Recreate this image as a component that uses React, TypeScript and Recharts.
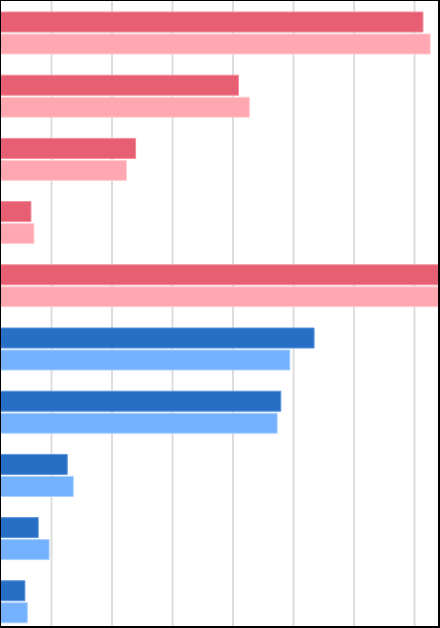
import React from 'react';
import { BarChart, Bar, XAxis, YAxis, CartesianGrid, Cell } from 'recharts';

const CATEGORIES = ['A1', 'A2', 'A3', 'A4', 'A5', 'B1', 'B2', 'B3', 'B4', 'B5'];
const GROUPS = ['red', 'red', 'red', 'red', 'red', 'blue', 'blue', 'blue', 'blue', 'blue'];
const SERIES_A = [71.4, 40.9, 23.9, 6.6, 78, 53.4, 47.9, 12.6, 7.8, 5.6];
const SERIES_B = [72.6, 42.7, 22.4, 7.1, 79, 49.4, 47.3, 13.6, 9.6, 6.0];
const X_TICKS = [0, 10, 20, 30, 40, 50, 60, 70, 80];

const PALETTE: Record<string, { dark: string; darkStroke: string; light: string; lightStroke: string }> = {
  red: { dark: '#e65f72', darkStroke: '#f28c9b', light: '#ffa8b1', lightStroke: '#ffcdd3' },
  blue: { dark: '#276fc5', darkStroke: '#5a95dd', light: '#74b2ff', lightStroke: '#a9d0ff' },
};

const data = CATEGORIES.map((name, i) => ({
  name,
  group: GROUPS[i],
  a: SERIES_A[i],
  b: SERIES_B[i],
}));

export default function App() {
  return (
    <div style={{ position: 'absolute', left: 0, top: 0, width: 440, height: 628, overflow: 'hidden', background: '#fff' }}>
      <div style={{ position: 'absolute', left: -9, top: 1 }}>
        <BarChart
          layout="vertical"
          width={484}
          height={632}
          data={data}
          margin={{ top: 0, right: 0, bottom: 0, left: 0 }}
          barSize={20}
          barGap={2}
        >
          <CartesianGrid horizontal={false} stroke="#dddddd" strokeWidth={2} />
          <XAxis type="number" domain={[0, 80]} ticks={X_TICKS} hide />
          <YAxis type="category" dataKey="name" hide />
          <Bar dataKey="a" isAnimationActive={false} strokeWidth={1}>
            {data.map((d, i) => (
              <Cell key={`a-${i}`} fill={PALETTE[d.group].dark} stroke={PALETTE[d.group].darkStroke} />
            ))}
          </Bar>
          <Bar dataKey="b" isAnimationActive={false} strokeWidth={1}>
            {data.map((d, i) => (
              <Cell key={`b-${i}`} fill={PALETTE[d.group].light} stroke={PALETTE[d.group].lightStroke} />
            ))}
          </Bar>
        </BarChart>
      </div>
      <div
        style={{
          position: 'absolute',
          left: 0,
          top: 0,
          width: 440,
          height: 628,
          boxSizing: 'border-box',
          borderTop: '1px solid #000',
          borderRight: '2px solid #000',
          borderBottom: '2px solid #000',
          borderLeft: '1px solid #000',
          pointerEvents: 'none',
        }}
      />
    </div>
  );
}
